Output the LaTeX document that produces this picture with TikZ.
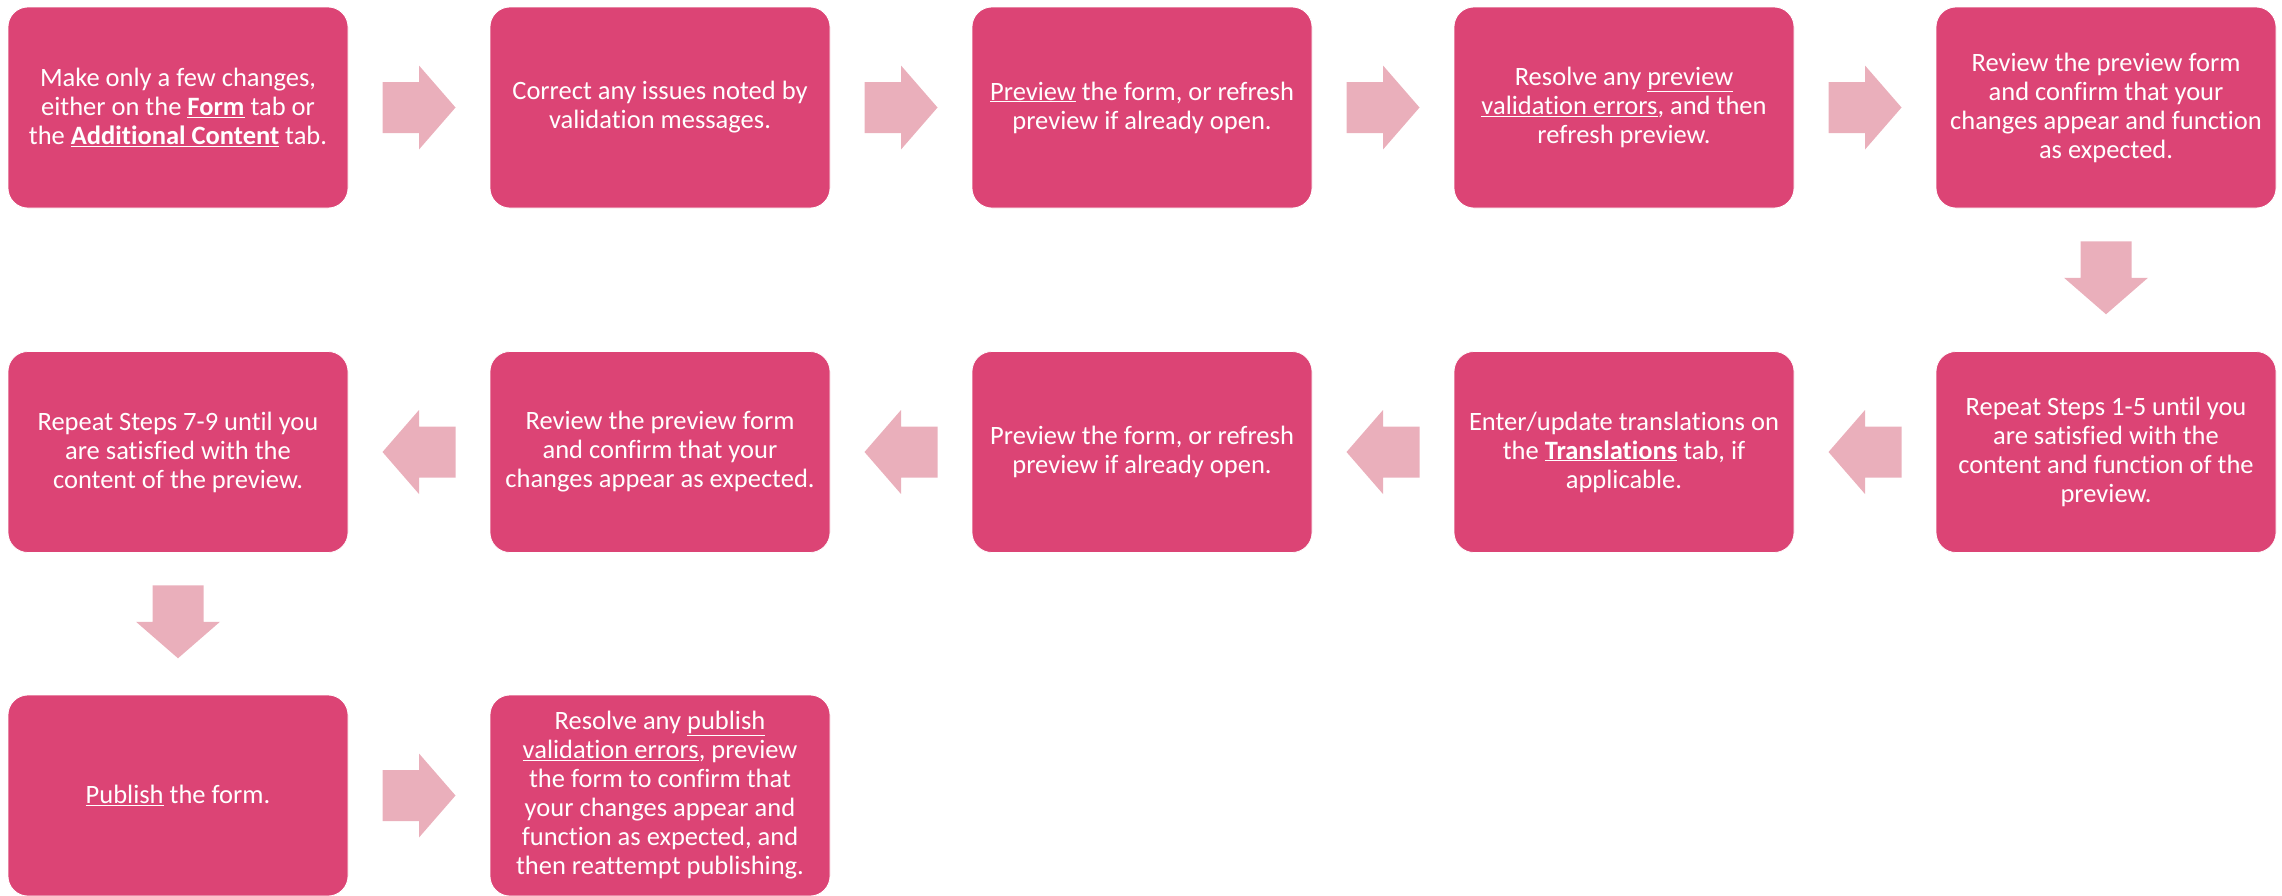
\documentclass[tikz,border=0pt]{standalone}
\usepackage{fontspec}
\setmainfont[Ligatures=NoCommon]{Carlito}
\usetikzlibrary{calc}
\definecolor{boxpink}{RGB}{220,68,117}
\definecolor{arrowpink}{RGB}{234,175,187}
\tikzset{
  stepbox/.style={rectangle, rounded corners=20pt, fill=boxpink, draw=white, line width=0.75pt,
    minimum width=340pt, minimum height=201pt, inner sep=4pt, align=center, text=white,
    font=\fontsize{26.5}{29}\selectfont},
  pics/blockarrow/.style={code={
    \fill[arrowpink, rotate=#1] (-36.5,-25.5) -- (0,-25.5) -- (0,-42) -- (36.5,0) -- (0,42) -- (0,25.5) -- (-36.5,25.5) -- cycle;
  }}
}
\newcommand{\ul}[1]{\underline{#1}}
\begin{document}
\begin{tikzpicture}[x=1pt,y=1pt]
\useasboundingbox (0,0) rectangle (2282,-895);
% row 1
\node[stepbox] (s1) at (178,-107.5) {Make only a few changes,\\either on the \ul{\textbf{Form}} tab or\\the \ul{\textbf{Additional Content}} tab.};
\node[stepbox] (s2) at (660,-107.5) {Correct any issues noted by\\validation messages.};
\node[stepbox] (s3) at (1142,-107.5) {\ul{Preview} the form, or refresh\\preview if already open.};
\node[stepbox] (s4) at (1624,-107.5) {Resolve any \ul{preview}\\\ul{validation errors}, and then\\refresh preview.};
\node[stepbox] (s5) at (2106,-107.5) {Review the preview form\\and confirm that your\\changes appear and function\\as expected.};
% row 2
\node[stepbox] (s6) at (2106,-452) {Repeat Steps 1-5 until you\\are satisfied with the\\content and function of the\\preview.};
\node[stepbox] (s7) at (1624,-452) {Enter/update translations on\\the \ul{\textbf{Translations}} tab, if\\applicable.};
\node[stepbox] (s8) at (1142,-452) {Preview the form, or refresh\\preview if already open.};
\node[stepbox] (s9) at (660,-452) {Review the preview form\\and confirm that your\\changes appear as expected.};
\node[stepbox] (s10) at (178,-452) {Repeat Steps 7-9 until you\\are satisfied with the\\content of the preview.};
% row 3
\node[stepbox] (s11) at (178,-795.5) {\ul{Publish} the form.};
\node[stepbox] (s12) at (660,-795.5) {Resolve any \ul{publish}\\\ul{validation errors}, preview\\the form to confirm that\\your changes appear and\\function as expected, and\\then reattempt publishing.};
% arrows
\foreach \a/\b in {s1/s2,s2/s3,s3/s4,s4/s5,s11/s12}
  \pic at ($(\a.east)!0.5!(\b.west)$) {blockarrow=0};
\foreach \a/\b in {s6/s7,s7/s8,s8/s9,s9/s10}
  \pic at ($(\a.west)!0.5!(\b.east)$) {blockarrow=180};
\pic at ($(s5.south)!0.5!(s6.north)+(0,2)$) {blockarrow=-90};
\pic at ($(s10.south)!0.5!(s11.north)+(0,2)$) {blockarrow=-90};
\end{tikzpicture}
\end{document}
